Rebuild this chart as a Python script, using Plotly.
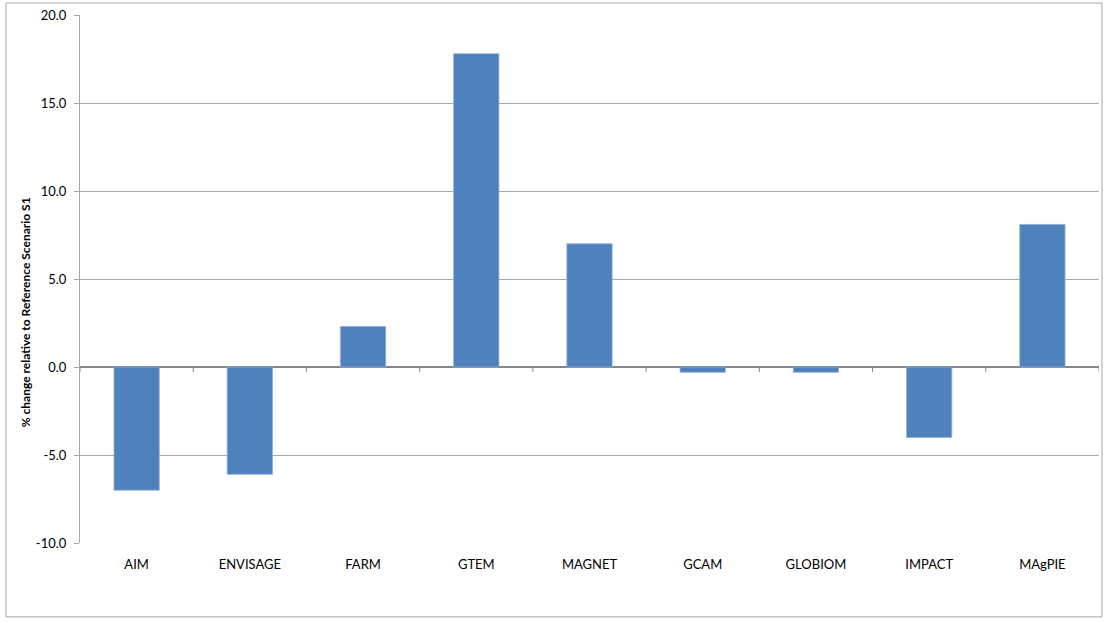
import plotly.graph_objects as go

# Model names and percentage change relative to Reference Scenario S1
models = ["AIM", "ENVISAGE", "FARM", "GTEM", "MAGNET", "GCAM", "GLOBIOM", "IMPACT", "MAgPIE"]
pct_change = [-7.0, -6.1, 2.3, 17.8, 7.0, -0.3, -0.3, -4.0, 8.1]
y_ticks = [-10, -5, 0, 5, 10, 15, 20]
y_tick_text = ["-10.0", "-5.0", "0.0", "5.0", "10.0", "15.0", "20.0"]

FONT = "Lato, 'Open Sans', sans-serif"
GRID = "#A6A6A6"

fig = go.Figure(
    go.Bar(
        x=list(range(len(models))),
        y=pct_change,
        width=0.4,
        marker=dict(color="#4F81BD", line=dict(color="#8FAFD9", width=0.8)),
        hoverinfo="x+y",
    )
)

# small tick marks on the zero line between categories
shapes = []
for i in range(len(models) + 1):
    shapes.append(dict(
        type="line", xref="x", yref="y",
        x0=i - 0.5, x1=i - 0.5,
        ysizemode="pixel", yanchor=0, y0=0, y1=-5,
        line=dict(color="#868686", width=1),
    ))

# outer chart border
shapes.append(dict(
    type="rect", xref="paper", yref="paper",
    x0=-0.0726, x1=1.0029, y0=-0.140, y1=1.0227,
    line=dict(color="#A6A6A6", width=1),
    fillcolor="rgba(0,0,0,0)", layer="below",
))

fig.update_layout(
    width=1107, height=623,
    margin=dict(l=80, r=8, t=15, b=80),
    paper_bgcolor="white", plot_bgcolor="white",
    showlegend=False,
    font=dict(family=FONT, size=13, color="#000000"),
    shapes=shapes,
    annotations=[dict(
        text="<b>% change relative to Reference Scenario S1</b>",
        xref="paper", yref="paper",
        x=-0.054, y=0.437,
        xanchor="center", yanchor="middle",
        textangle=-90, showarrow=False,
        font=dict(size=12),
    )],
    xaxis=dict(
        range=[-0.5, len(models) - 0.5],
        tickmode="array",
        tickvals=list(range(len(models))),
        ticktext=models,
        ticks="",
        showgrid=False,
        zeroline=False,
        showline=False,
        ticklabelstandoff=12,
        tickfont=dict(size=13),
    ),
    yaxis=dict(
        range=[-10, 20],
        tickmode="array",
        tickvals=y_ticks,
        ticktext=y_tick_text,
        ticks="outside", ticklen=5, tickcolor=GRID,
        showgrid=True, gridcolor=GRID, gridwidth=1,
        zeroline=True, zerolinecolor="#868686", zerolinewidth=1.5,
        showline=True, linecolor=GRID, linewidth=1,
        ticklabelstandoff=5,
        tickfont=dict(size=13),
    ),
)

fig.write_html("out.html")
